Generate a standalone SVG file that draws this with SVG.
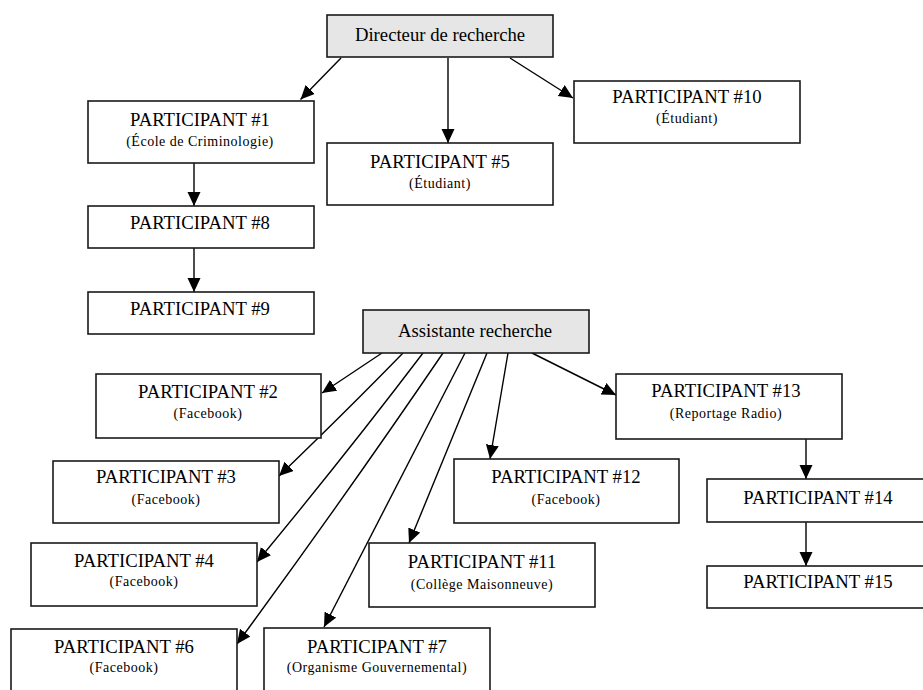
<svg xmlns="http://www.w3.org/2000/svg" width="923" height="690" viewBox="0 0 923 690">
<style>
.box{fill:#ffffff;stroke:#1a1a1a;stroke-width:1.6}
.gray{fill:#e6e6e6;stroke:#1a1a1a;stroke-width:1.6}
.t{font-family:"Liberation Serif","Times New Roman",serif;font-size:18.7px;fill:#000;text-anchor:middle}
.s{font-family:"Liberation Serif","Times New Roman",serif;font-size:14px;letter-spacing:0.5px;fill:#000;text-anchor:middle}
.c{fill:none;stroke:#000;stroke-width:1.4;marker-end:url(#ah)}
</style>
<defs>
<marker id="ah" markerUnits="userSpaceOnUse" markerWidth="15" markerHeight="14" refX="14" refY="6.5" orient="auto">
<path d="M0,0 L14,6.5 L0,13 z" fill="#000"/>
</marker>
</defs>
<rect width="923" height="690" fill="#ffffff"/>
<g id="connectors">
<path class="c" d="M341,58 L300.5,99.5"/>
<path class="c" d="M448,58 L448,143"/>
<path class="c" d="M510,58 L573,98"/>
<path class="c" d="M194,163 L194,206"/>
<path class="c" d="M194,248 L194,292"/>
<path class="c" d="M806,439 L806,479"/>
<path class="c" d="M806,522 L806,566"/>
<path class="c" d="M382,353 L322,393"/>
<path class="c" d="M403,353 Q347,410.5 279,476"/>
<path class="c" d="M423,353 Q346,454.5 257,562"/>
<path class="c" d="M443,353 Q346,495.5 237,644"/>
<path class="c" d="M465,353 L324,627"/>
<path class="c" d="M487,353 L409,543"/>
<path class="c" d="M508,353 L490,459"/>
<path class="c" d="M532,353 L616,395"/>
</g>
<g id="directeur"><rect class="gray" x="327" y="15" width="226" height="42"/><text class="t" x="440" y="41">Directeur de recherche</text></g>
<g id="p1"><rect class="box" x="88" y="101" width="226" height="62"/><text class="t" x="200" y="126">PARTICIPANT #1</text><text class="s" x="200" y="146">(École de Criminologie)</text></g>
<g id="p5"><rect class="box" x="327" y="143" width="226" height="62"/><text class="t" x="440" y="168">PARTICIPANT #5</text><text class="s" x="440" y="188">(Étudiant)</text></g>
<g id="p10"><rect class="box" x="574" y="81" width="226" height="62"/><text class="t" x="687" y="103">PARTICIPANT #10</text><text class="s" x="687" y="123">(Étudiant)</text></g>
<g id="p8"><rect class="box" x="88" y="206" width="226" height="42"/><text class="t" x="200" y="229">PARTICIPANT #8</text></g>
<g id="p9"><rect class="box" x="88" y="292" width="226" height="42"/><text class="t" x="200" y="315">PARTICIPANT #9</text></g>
<g id="assistante"><rect class="gray" x="363" y="310" width="226" height="43"/><text class="t" x="475" y="337">Assistante recherche</text></g>
<g id="p2"><rect class="box" x="96" y="374" width="225" height="64"/><text class="t" x="208" y="398">PARTICIPANT #2</text><text class="s" x="208" y="418">(Facebook)</text></g>
<g id="p3"><rect class="box" x="53" y="461" width="226" height="62"/><text class="t" x="166" y="483">PARTICIPANT #3</text><text class="s" x="166" y="504">(Facebook)</text></g>
<g id="p4"><rect class="box" x="31" y="543" width="226" height="63"/><text class="t" x="144" y="567">PARTICIPANT #4</text><text class="s" x="144" y="586">(Facebook)</text></g>
<g id="p6"><rect class="box" x="11" y="629" width="226" height="62"/><text class="t" x="124" y="653">PARTICIPANT #6</text><text class="s" x="124" y="672">(Facebook)</text></g>
<g id="p7"><rect class="box" x="264" y="628" width="226" height="63"/><text class="t" x="377" y="653">PARTICIPANT #7</text><text class="s" x="377" y="672">(Organisme Gouvernemental)</text></g>
<g id="p11"><rect class="box" x="369" y="543" width="226" height="64"/><text class="t" x="482" y="568">PARTICIPANT #11</text><text class="s" x="482" y="589">(Collège Maisonneuve)</text></g>
<g id="p12"><rect class="box" x="454" y="459" width="225" height="64"/><text class="t" x="566" y="483">PARTICIPANT #12</text><text class="s" x="566" y="504">(Facebook)</text></g>
<g id="p13"><rect class="box" x="616" y="374" width="226" height="65"/><text class="t" x="726" y="397">PARTICIPANT #13</text><text class="s" x="726" y="418">(Reportage Radio)</text></g>
<g id="p14"><rect class="box" x="707" y="479" width="224" height="43"/><text class="t" x="818" y="504">PARTICIPANT #14</text></g>
<g id="p15"><rect class="box" x="707" y="566" width="224" height="42"/><text class="t" x="818" y="588">PARTICIPANT #15</text></g>
</svg>
